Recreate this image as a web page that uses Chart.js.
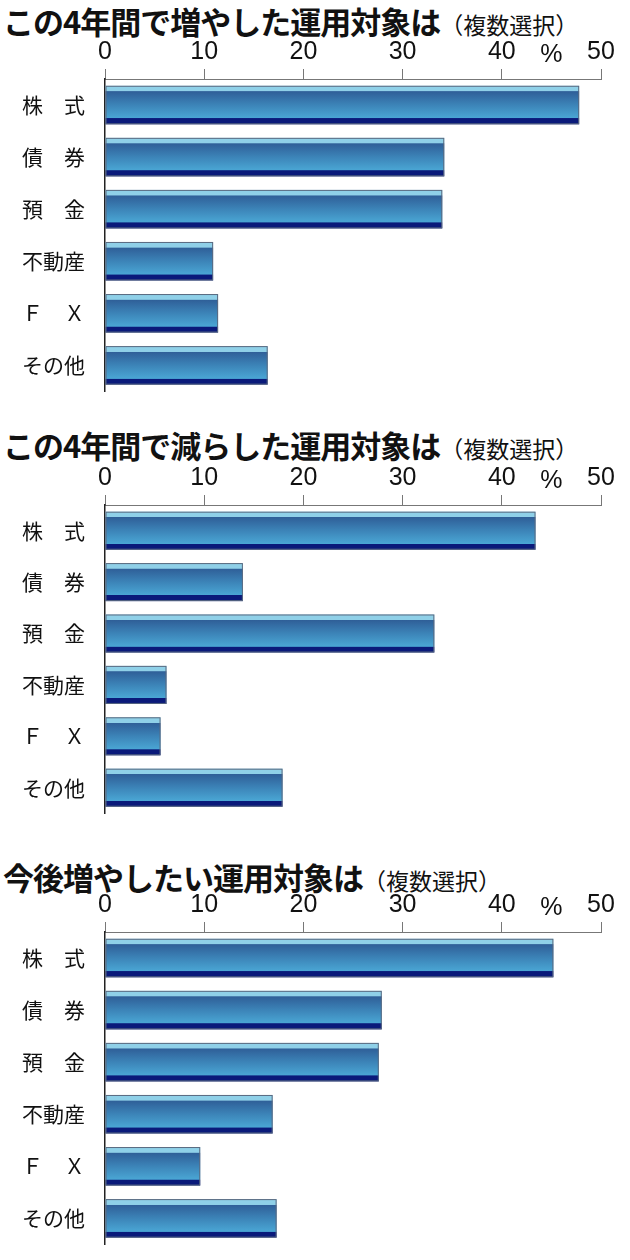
<!DOCTYPE html>
<html><head><meta charset="utf-8">
<script src="https://cdn.jsdelivr.net/npm/chart.js@4"></script>
<style>
body{margin:0;width:630px;height:1260px;background:#fff;position:relative;overflow:hidden;font-family:"Noto Sans CJK JP",sans-serif}
.t{position:absolute;left:3px;font-weight:bold;font-size:31px;line-height:36px;color:#111;white-space:nowrap;letter-spacing:-1px}
.t span{font-weight:normal;font-size:23px;letter-spacing:0}
.c{position:absolute;left:0;width:630px}
</style></head><body>
<div class="t" style="top:3px">この4年間で増やした運用対象は<span>（複数選択）</span></div>
<div class="t" style="top:427px">この4年間で減らした運用対象は<span>（複数選択）</span></div>
<div class="t" style="top:859px">今後増やしたい運用対象は<span>（複数選択）</span></div>
<div class="c" style="top:32px;height:384px"><canvas id="c1"></canvas></div>
<div class="c" style="top:458px;height:380px"><canvas id="c2"></canvas></div>
<div class="c" style="top:885px;height:384px"><canvas id="c3"></canvas></div>
<script>
const categories = ["株\u3000式","債\u3000券","預\u3000金","不動産","Ｆ\u3000Ｘ","その他"];
const increasedPast = [47.8, 34.2, 34.0, 10.9, 11.4, 16.4];
const decreasedPast = [43.4, 13.9, 33.2, 6.2, 5.6, 17.9];
const increaseFuture = [45.2, 27.9, 27.6, 16.9, 9.6, 17.3];
const xTicks = [0,10,20,30,40,50];

const barPaint = {
  id:'barPaint',
  afterDatasetsDraw(chart){
    const ctx = chart.ctx;
    const meta = chart.getDatasetMeta(0);
    meta.data.forEach(el=>{
      const {x,y,base,height} = el.getProps(['x','y','base','height'],true);
      const top = y-height/2, bot = y+height/2;
      const g = ctx.createLinearGradient(0,top,0,bot);
      g.addColorStop(0,'#8fd0e8'); g.addColorStop(0.14,'#8fd0e8');
      g.addColorStop(0.15,'#2f5f98'); g.addColorStop(0.5,'#3c84b8');
      g.addColorStop(0.84,'#4aa6d4'); g.addColorStop(0.85,'#0a1a7a');
      g.addColorStop(1,'#0a1a7a');
      ctx.save(); ctx.fillStyle=g; ctx.fillRect(base,top,x-base,height);
      ctx.strokeStyle='#5a6a80'; ctx.lineWidth=1; ctx.strokeRect(base+0.5,top+0.5,x-base-1,height-1);
      ctx.restore();
    });
    const xs = chart.scales.x;
    ctx.save(); ctx.font='25px "Liberation Sans Narrow","Liberation Sans",sans-serif';
    ctx.fillStyle='#111'; ctx.textAlign='center'; ctx.textBaseline='middle';
    ctx.fillText('%', xs.getPixelForValue(45), xs.bottom-24); ctx.restore();
  }
};

function make(id, data){
  new Chart(document.getElementById(id),{
    type:'bar',
    data:{labels:categories,datasets:[{data:data,backgroundColor:'rgba(0,0,0,0)',borderWidth:0,categoryPercentage:1,barPercentage:0.74}]},
    options:{
      indexAxis:'y',responsive:true,maintainAspectRatio:false,animation:false,
      layout:{padding:{left:4,right:29,top:0,bottom:0}},
      plugins:{legend:{display:false},tooltip:{enabled:false}},
      scales:{
        x:{position:'top',min:0,max:50,afterBuildTicks:s=>{s.ticks=xTicks.map(v=>({value:v}));},
          afterFit:s=>{s.height=47;},
          grid:{drawOnChartArea:false,drawTicks:true,tickLength:10,color:'#777'},
          border:{display:true,color:'#777'},
          ticks:{padding:2,color:'#111',font:{size:25,family:'"Liberation Sans Narrow","Liberation Sans",sans-serif'}}},
        y:{afterFit:s=>{s.width=101;},grid:{display:false},border:{display:true,color:'#222',width:1.5},
          ticks:{color:'#111',padding:12,crossAlign:'near',font:{size:21,family:'"Noto Sans CJK JP"'}}}
      }
    },
    plugins:[barPaint]
  });
}
make('c1',increasedPast); make('c2',decreasedPast); make('c3',increaseFuture);
</script></body></html>
